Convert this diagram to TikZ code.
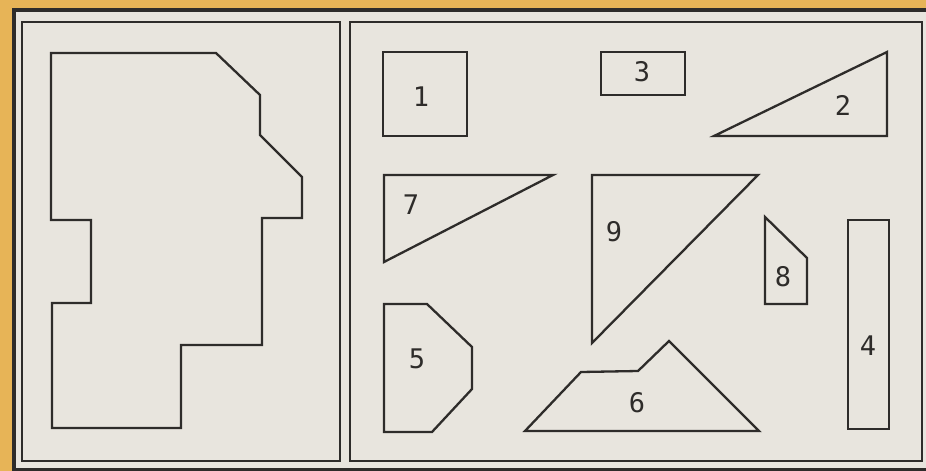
\documentclass[tikz,border=0pt]{standalone}
\usepackage{fontspec}
\setmonofont{DejaVu Sans Mono}
\usetikzlibrary{positioning}
\definecolor{card}{HTML}{E7B457}
\definecolor{paper}{HTML}{E8E5DE}
\definecolor{ink}{HTML}{2E2C2A}

\begin{document}
\begin{tikzpicture}[
    x=1pt, y=-1pt,
    frame/.style={draw=ink, line width=4.5pt},
    panel/.style={draw=ink, line width=2pt},
    piece/.style={draw=ink, line width=2.3pt, line join=miter},
    tag/.style={font=\ttfamily\fontsize{27}{27}\selectfont, text=ink, inner sep=0pt}
]
    \useasboundingbox (0,0) rectangle (926,471);
    \fill [card] (0,0) rectangle (926,471);
    \fill [paper] (14,10) rectangle (926,470);
    \draw [frame] (926,10) -- (14,10) -- (14,470) -- (926,470);

    % two panels
    \draw [panel] (22,22) rectangle (340,461);
    \draw [panel] (350,22) rectangle (922,461);

    % outline to fill
    \draw [piece] (51,53) -- (216,53) -- (260,95) -- (260,135) -- (302,177) -- (302,218)
        -- (262,218) -- (262,345) -- (181,345) -- (181,428) -- (52,428) -- (52,303)
        -- (91,303) -- (91,220) -- (51,220) -- cycle;

    % the nine pieces
    \draw [piece] (383,52) rectangle (467,136);
    \draw [piece] (601,52) rectangle (685,95);
    \draw [piece] (714,136) -- (887,52) -- (887,136) -- cycle;
    \draw [piece] (848,220) rectangle (889,429);
    \draw [piece] (384,304) -- (427,304) -- (472,347) -- (472,389) -- (432,432) -- (384,432) -- cycle;
    \draw [piece] (525,431) -- (581,372) -- (638,371) -- (669,341) -- (759,431) -- cycle;
    \draw [piece] (384,175) -- (553,175) -- (384,262) -- cycle;
    \draw [piece] (765,217) -- (807,258) -- (807,304) -- (765,304) -- cycle;
    \draw [piece] (592,175) -- (758,175) -- (592,343) -- cycle;

    \node [tag] (t1) at (421,97) {1};
    \node [tag] (t2) at (843,105) {2};
    \node [tag] (t3) at (642,72) {3};
    \node [tag] (t4) at (868,346) {4};
    \node [tag] (t5) at (417,359) {5};
    \node [tag] (t6) at (637,403) {6};
    \node [tag] (t7) at (411,205) {7};
    \node [tag] (t8) at (783,277) {8};
    \node [tag] (t9) at (614,232) {9};
\end{tikzpicture}
\end{document}
